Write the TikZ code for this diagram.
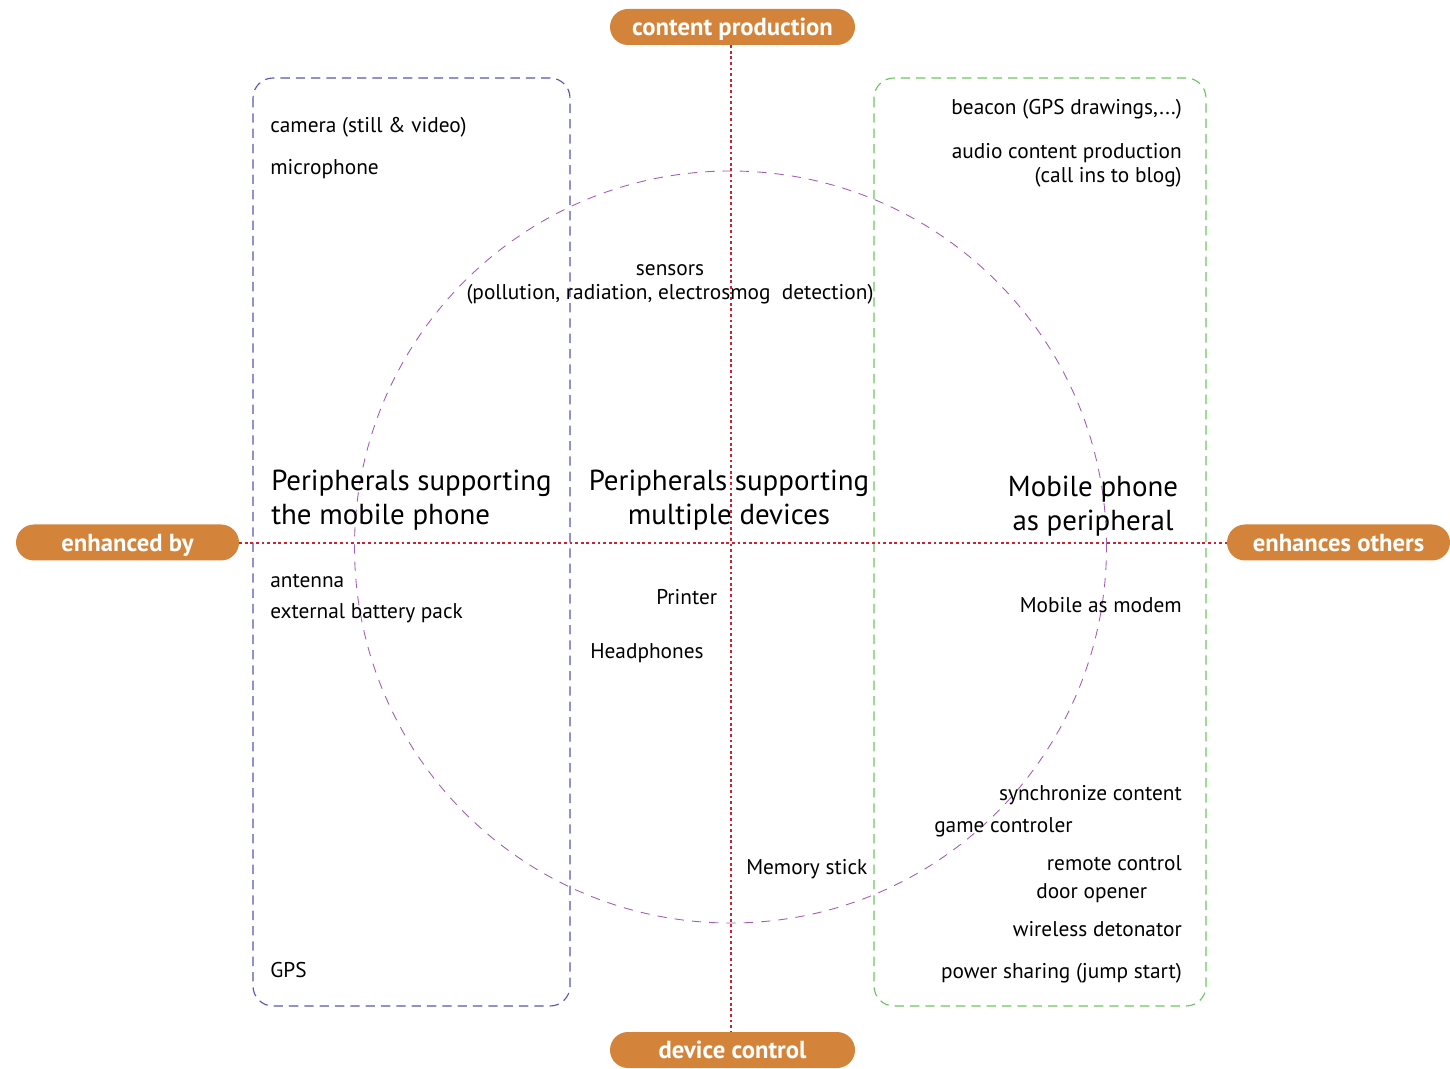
\documentclass[tikz,border=0pt]{standalone}
\usepackage{fontspec}
\setmainfont{PT Sans}
\definecolor{pillc}{HTML}{D4843A}
\definecolor{axisc}{HTML}{CC2233}
\definecolor{bluec}{HTML}{5656B4}
\definecolor{greenc}{HTML}{6CC660}
\definecolor{purplec}{HTML}{A35CB4}
\begin{document}
\begin{tikzpicture}[x=0.75pt,y=-0.75pt,
  pill/.style={fill=pillc, rounded corners=13.5pt, minimum height=27pt,
    minimum width=183.75pt, inner sep=0pt, text=white, text depth=0pt,
    font=\fontsize{18.5}{22}\selectfont\bfseries},
  axis/.style={axisc, line width=1.1pt, dash pattern=on 2pt off 2.2pt},
  item/.style={inner sep=0pt, font=\fontsize{16}{18}\selectfont},
  big/.style={inner sep=0pt, font=\fontsize{21.7}{25.5}\selectfont}]
\useasboundingbox (0,0) rectangle (1450,1069);

% grouping boxes and circle
\draw[bluec, line width=0.85pt, dash pattern=on 7pt off 4.5pt, rounded corners=15pt]
  (253,78) rectangle (570,1006);
\draw[greenc, line width=0.85pt, dash pattern=on 7pt off 4.5pt, rounded corners=15pt]
  (874,78) rectangle (1206,1006);
\draw[purplec, line width=0.65pt, dash pattern=on 7pt off 6pt]
  (730.5,547) circle[radius=282pt];

% axis labels
\node[pill] (cp) at (732.5,27) {content production};
\node[pill] (dc) at (732.5,1050) {device control};
\node[pill, minimum width=167.25pt] (eb) at (127.5,542.5) {enhanced by};
\node[pill, minimum width=167.25pt] (eo) at (1338.5,542.5) {enhances others};

% axes
\draw[axis] (cp.south -| 731,0) -- (dc.north -| 731,0);
\draw[axis] (eb.east |- 0,543) -- (eo.west |- 0,543);

% quadrant headings
\node[big, align=left, anchor=west] (h1) at (271,500) {Peripherals supporting\\the mobile phone};
\node[big, align=center] (h2) at (729,500) {Peripherals supporting\\multiple devices};
\node[big, align=center] (h3) at (1093,506) {Mobile phone\\as peripheral};

% left column
\node[item, anchor=west] (t1) at (270,127) {camera (still \& video)};
\node[item, anchor=west] (t2) at (270,169) {microphone};
\node[item, anchor=west] (t3) at (270,581) {antenna};
\node[item, anchor=west] (t4) at (270,613) {external battery pack};
\node[item, anchor=west] (t5) at (270,970) {GPS};

% centre
\node[item, align=center] (s1) at (670,284) {sensors\\(pollution, radiation, electrosmog\ \ detection)};
\node[item, anchor=west] (c1) at (656,597) {Printer};
\node[item, anchor=west] (c2) at (590,653) {Headphones};
\node[item, anchor=west] (c3) at (746,869) {Memory stick};

% right column
\node[item, anchor=east] (r1) at (1182,109) {beacon (GPS drawings,...)};
\node[item, anchor=east, align=right] (r2) at (1182,165) {audio content production\\(call ins to blog)};
\node[item, anchor=east] (r3) at (1182,605) {Mobile as modem};
\node[item, anchor=east] (r4) at (1182,795) {synchronize content};
\node[item, anchor=west] (r5) at (934,827) {game controler};
\node[item, anchor=east] (r6) at (1182,863) {remote control};
\node[item, anchor=west] (r7) at (1036,893) {door opener};
\node[item, anchor=east] (r8) at (1182,929) {wireless detonator};
\node[item, anchor=east] (r9) at (1182,973) {power sharing (jump start)};
\end{tikzpicture}
\end{document}
